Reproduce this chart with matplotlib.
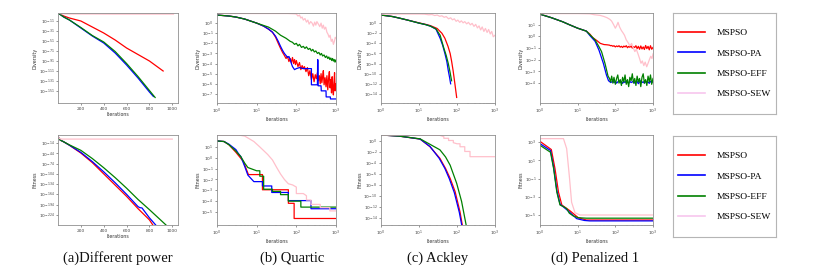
"""
Convergence comparison of MSPSO variants: diversity (top row) and fitness
(bottom row) on four benchmark functions, with one legend box per row.
"""

import matplotlib

matplotlib.use("Agg")
import matplotlib.pyplot as plt
import numpy as np
from matplotlib.lines import Line2D
from matplotlib.ticker import LogFormatterSciNotation, NullLocator

W, H = 818, 278

METHODS = ["MSPSO", "MSPSO-PA", "MSPSO-EFF", "MSPSO-SEW"]
LINE_COLORS = ["red", "blue", "green", "pink"]
LEGEND_COLORS = ["red", "blue", "green", "#f7c6ee"]
CAPTIONS = ["(a)Different power", "(b) Quartic", "(c) Ackley", "(d) Penalized 1"]

# -----------------------------
# Data (y values stored as log10 exponents)
# -----------------------------
# (a) Different power - diversity
a_div_red_x = [0, 50, 100, 200, 300, 400, 500, 600, 700, 800, 920]
a_div_red = [5, -1, -5, -11, -23, -35, -49, -65, -78, -91, -111]
a_div_blue_x = [0, 50, 100, 200, 300, 400, 500, 600, 700, 800, 835]
a_div_blue = [5, -3, -9, -25, -41, -55, -75, -99, -125, -153, -162]
a_div_green_x = [0, 50, 100, 200, 300, 400, 500, 600, 700, 800, 850]
a_div_green = [5, -3, -9, -24, -40, -53, -72, -96, -122, -150, -164]
a_div_pink_x = [0, 30, 100, 300, 500, 700, 900, 1010]
a_div_pink = [5, 3.5, 3, 3, 2.8, 2.8, 2.8, 2.8]

# (a) Different power - fitness
a_fit_red_x = [0, 5, 20, 50, 100, 200, 300, 400, 500, 600, 700, 800, 830]
a_fit_red = [10, 2, -5, -10, -20, -43, -71, -104, -137, -170, -206, -239, -254]
a_fit_blue_x = [0, 5, 20, 50, 100, 200, 300, 400, 500, 600, 700, 715, 735, 800, 855]
a_fit_blue = [10, 2, -5, -10, -20, -41, -68, -98, -130, -164, -200, -203, -204, -233, -254]
a_fit_green_x = [0, 5, 20, 50, 100, 200, 300, 400, 500, 600, 700, 800, 900, 945]
a_fit_green = [10, 2, -5, -10, -19, -35, -59, -86, -115, -146, -179, -209, -240, -254]
a_fit_pink_x = [0, 5, 20, 40, 100, 500, 1000]
a_fit_pink = [10, 2, -1.5, -2, -2, -2, -2]

# (b) Quartic - diversity
b_div_red_x = [1, 2, 3, 5, 10, 15, 20, 25, 30, 35,
               40, 45, 50, 55, 60, 65, 70, 75, 80, 85,
               90, 95, 100, 110, 120, 130, 140, 150, 160, 175,
               190, 205, 220, 240, 260, 280, 300, 320, 340, 360,
               380, 400, 420, 440, 460, 480, 500, 530, 560, 590,
               620, 650, 680, 710, 740, 770, 800, 830, 860, 890,
               920, 950, 980, 1000]
b_div_red = [0.8, 0.7, 0.6, 0.4, 0.0, -0.3, -0.6, -0.9, -1.4, -2.0,
             -2.5, -2.9, -3.2, -3.5, -3.3, -3.8, -3.5, -3.9, -3.4, -4.0,
             -3.6, -4.1, -3.7, -4.3, -3.9, -4.6, -4.2, -4.5, -4.3, -4.8,
             -4.4, -5.2, -4.7, -5.6, -5.0, -5.8, -5.1, -5.5, -4.9, -5.7,
             -5.2, -6.0, -5.0, -5.9, -5.3, -4.7, -6.1, -5.4, -6.3, -5.2,
             -6.6, -5.5, -4.8, -6.4, -5.6, -6.9, -5.3, -6.5, -7.1, -5.8,
             -4.9, -6.7, -6.0, -6.3]
b_div_blue_x = [1, 2, 3, 5, 10, 15, 20, 25, 30, 35,
                40, 45, 50, 55, 60, 65, 70, 75, 80, 90,
                100, 120, 150, 200, 240, 240, 340, 345, 350, 355,
                420, 425, 560, 565, 720, 725, 1000]
b_div_blue = [0.8, 0.7, 0.6, 0.4, 0.0, -0.3, -0.6, -0.9, -1.3, -1.8,
              -2.3, -2.7, -3.0, -3.2, -3.4, -3.3, -3.6, -4.0, -4.3, -4.6,
              -4.5, -4.4, -4.5, -4.5, -4.5, -6.1, -6.1, -3.6, -3.7, -6.2,
              -6.2, -6.7, -6.7, -7.3, -7.3, -7.5, -7.5]
b_div_green_x = [1, 2, 3, 5, 10, 20, 30, 40, 55, 70,
                 80, 90, 100, 110, 120, 135, 150, 165, 180, 200,
                 220, 240, 260, 285, 310, 340, 370, 400, 430, 460,
                 500, 540, 580, 620, 660, 700, 740, 780, 820, 860,
                 900, 940, 980, 1000]
b_div_green = [0.8, 0.7, 0.6, 0.4, 0.0, -0.4, -0.8, -1.2, -1.5, -1.8,
               -1.9, -2.1, -2.0, -2.25, -2.1, -2.4, -2.3, -2.5, -2.35, -2.6,
               -2.5, -2.75, -2.6, -2.85, -2.75, -3.0, -2.9, -3.15, -3.0, -3.25,
               -3.15, -3.4, -3.25, -3.5, -3.35, -3.6, -3.45, -3.7, -3.5, -3.75,
               -3.6, -3.85, -3.65, -3.8]
b_div_pink_x = [1, 3, 10, 30, 60, 90, 100, 110, 120, 130,
                140, 150, 165, 180, 195, 210, 230, 250, 270, 290,
                310, 330, 360, 390, 420, 450, 480, 510, 550, 590,
                630, 670, 710, 760, 810, 860, 910, 960, 1000]
b_div_pink = [0.95, 0.95, 0.95, 0.95, 0.95, 0.92, 0.9, 0.7, 0.8, 0.5,
              0.6, 0.3, 0.45, 0.1, 0.3, -0.1, 0.15, 0.0, -0.3, 0.1,
              -0.2, 0.15, -0.1, -0.35, 0.0, -0.5, -0.2, -0.6, -0.4, -0.9,
              -1.1, -1.4, -1.2, -1.8, -1.6, -2.1, -1.8, -1.4, -1.5]

# (b) Quartic - fitness
b_fit_red_x = [1, 1.5, 2, 3, 4.6, 6.2, 14, 14, 63, 63, 88, 88, 1000]
b_fit_red = [1.55, 1.5, 1.2, 0.5, -0.33, -1.55, -1.55, -2.95, -2.95, -4.2, -4.2, -5.6, -5.6]
b_fit_blue_x = [1, 1.5, 2, 3, 3.4, 4, 5, 6, 8.5, 14, 14, 24, 24, 63, 63, 234, 234, 1000]
b_fit_blue = [1.55, 1.5, 1.25, 0.75, 0.43, 0.1, -0.8, -1.6, -2.2, -2.2,
              -2.6, -2.6, -3.2, -3.2, -3.95, -3.95, -4.7, -4.7]
b_fit_green_x = [1, 1.5, 2, 3, 4, 5, 6, 10, 12, 12, 15, 15, 25, 25, 40, 40, 63, 63, 130, 130, 1000]
b_fit_green = [1.55, 1.5, 1.2, 0.6, 0.1, -0.5, -0.9, -1.2, -1.2, -1.7,
               -1.7, -2.9, -2.9, -3.1, -3.1, -3.4, -3.4, -4.0, -4.0, -4.55, -4.55]
b_fit_pink_x = [1, 3.5, 5, 8.5, 12, 19, 25, 32, 40, 50, 63, 80,
                100, 100, 150, 180, 180, 234, 234, 400, 400, 700, 700, 1000]
b_fit_pink = [2.1, 2.1, 2.0, 1.5, 1.0, 0.3, -0.2, -0.9, -1.5, -2.0, -2.4, -2.5,
              -2.7, -3.3, -3.3, -3.5, -3.9, -3.9, -4.3, -4.3, -4.6, -4.6, -4.9, -4.9]

# (c) Ackley - diversity
c_div_red_x = [1, 2, 3, 5, 10, 15, 20, 30, 40, 48, 58, 66, 72, 79, 88, 98]
c_div_red = [1.6, 1.3, 1.0, 0.6, 0.05, -0.25, -0.5, -1.06, -2.0, -3.0, -4.6, -6.0, -7.5, -9.4, -12.0, -14.7]
c_div_blue_x = [1, 2, 3, 5, 10, 15, 20, 28, 36, 42, 48, 54, 59, 64, 68]
c_div_blue = [1.6, 1.3, 1.0, 0.6, 0.0, -0.3, -0.6, -1.2, -3.0, -4.4, -6.0, -7.6, -9.4, -10.8, -12.0]
c_div_green_x = [1, 2, 3, 5, 10, 15, 20, 28, 36, 44, 52, 59, 66, 72]
c_div_green = [1.6, 1.3, 1.0, 0.6, 0.0, -0.3, -0.6, -1.15, -2.4, -4.7, -6.4, -8.0, -9.8, -11.4]
c_div_pink_x = [1, 5, 10, 14, 18, 22, 26, 30, 35, 40,
                46, 52, 60, 68, 76, 85, 95, 105, 118, 130,
                145, 160, 180, 200, 225, 250, 280, 310, 345, 380,
                420, 460, 510, 560, 620, 680, 750, 820, 900, 1000]
c_div_pink = [1.8, 1.8, 1.8, 1.77, 1.65, 1.7, 1.5, 1.6, 1.35, 1.45,
              1.15, 1.3, 0.85, 1.05, 0.65, 0.85, 0.35, 0.6, 0.15, 0.45,
              0.05, 0.3, -0.15, 0.15, -0.35, -0.05, -0.65, -0.25, -0.95, -0.55,
              -1.35, -0.75, -1.65, -1.05, -1.85, -1.25, -2.15, -1.65, -2.7, -2.4]

# (c) Ackley - fitness
c_fit_red_x = [1, 3, 10.7, 19.5, 35.5, 50, 66, 89, 120, 138]
c_fit_red = [1.1, 0.9, 0.36, -1.04, -3.15, -5.0, -6.8, -9.2, -12.9, -15.3]
c_fit_blue_x = [1, 3, 10.7, 19.5, 34, 48, 63, 85, 115, 133]
c_fit_blue = [1.1, 0.9, 0.36, -1.0, -3.15, -5.0, -6.9, -9.4, -13.0, -15.3]
c_fit_green_x = [1, 3, 10.7, 19.5, 35.5, 50, 66, 98, 132, 174]
c_fit_green = [1.1, 0.9, 0.4, -0.6, -1.6, -2.9, -4.4, -7.7, -11.0, -15.3]
c_fit_pink_x = [1, 35, 45, 45, 60, 60, 80, 80, 100, 120, 120, 160, 160, 220, 220, 1000]
c_fit_pink = [1.05, 1.05, 0.8, 0.5, 0.5, 0.1, 0.1, -0.3, -0.5, -0.5,
              -1.04, -1.04, -1.9, -1.9, -2.85, -2.85]

# (d) Penalized 1 - diversity
d_tail_x = [70, 75, 80, 86, 92, 100, 108, 116, 125, 135,
            145, 156, 168, 181, 195, 210, 226, 243, 262, 282,
            304, 327, 352, 379, 408, 440, 474, 510, 549, 591,
            637, 686, 739, 796, 857, 923, 1000]
d_div_red_x = [1, 2, 4, 6, 10, 17, 21, 25, 32, 40, 50, 60] + d_tail_x
d_div_red = [1.9, 1.6, 1.25, 1.0, 0.7, 0.45, 0.2, -0.1, -0.35, -0.6, -0.7, -0.72,
             -0.75, -0.8, -0.78, -0.85, -0.8, -0.9, -0.82, -0.88, -0.8, -0.92,
             -0.85, -0.95, -0.83, -0.9, -0.8, -0.97, -0.86, -0.93, -0.82, -1.0,
             -0.88, -0.95, -0.8, -1.05, -0.85, -1.1, -0.82, -1.08, -0.9, -1.12,
             -0.78, -1.05, -0.85, -1.15, -0.8, -1.1, -0.95]
d_div_blue_x = [1, 2, 4, 6, 10, 17, 21, 29, 37, 48, 58, 66] + d_tail_x
d_div_blue = [1.9, 1.6, 1.25, 1.0, 0.7, 0.45, 0.08, -0.42, -1.2, -2.3, -3.3, -3.8,
              -3.85, -3.95, -3.9, -3.8, -3.95, -3.85, -4.0, -3.9, -3.8, -3.95,
              -3.88, -4.02, -3.85, -3.95, -3.8, -3.92, -4.0, -3.85, -3.95, -3.9,
              -3.82, -4.0, -3.9, -3.85, -4.05, -3.9, -3.8, -3.95, -3.88, -4.0,
              -3.85, -3.95, -3.9, -4.02, -3.85, -3.92, -3.9]
d_div_green_x = [1, 2, 4, 6, 10, 17, 21, 29, 37, 43, 53, 64] + d_tail_x
d_div_green = [1.9, 1.6, 1.25, 1.0, 0.7, 0.45, 0.15, -0.3, -0.9, -1.3, -2.3, -3.4,
               -3.6, -3.9, -3.4, -4.0, -3.5, -4.1, -3.6, -3.3, -4.0, -3.7,
               -4.2, -3.5, -3.9, -3.3, -4.1, -3.7, -4.3, -3.5, -3.8, -3.2,
               -4.0, -3.6, -4.2, -3.4, -3.9, -3.6, -4.3, -3.5, -3.2, -4.0,
               -3.7, -4.2, -3.4, -3.9, -3.3, -4.1, -3.6]
d_div_pink_x = [1, 5, 10, 21, 28, 39, 50, 60, 72, 80,
                90, 100, 108, 118, 130, 145, 160, 175, 195, 215,
                245, 270, 300, 330, 360, 400, 440, 480, 520, 570,
                620, 680, 740, 800, 870, 940, 1000]
d_div_pink = [1.95, 1.95, 1.95, 1.93, 1.85, 1.8, 1.7, 1.6, 1.45, 1.3,
              1.0, 0.7, 0.9, 1.2, 0.8, 0.5, 0.3, 0.1, -0.3, -0.5,
              -0.8, -0.6, -1.0, -1.3, -1.1, -1.5, -1.9, -2.3, -2.1, -2.5,
              -2.2, -2.6, -2.3, -2.0, -1.7, -1.9, -1.5]

# (d) Penalized 1 - fitness
d_fit_red_x = [1, 2.0, 2.5, 3.1, 3.8, 6.3, 10.4, 17, 1000]
d_fit_red = [3.1, 2.2, 0.1, -2.5, -3.9, -4.55, -5.3, -5.55, -5.55]
d_fit_blue_x = [1, 1.9, 2.3, 2.8, 3.4, 5.6, 9.4, 15, 21, 1000]
d_fit_blue = [2.85, 2.1, 0.25, -2.3, -3.8, -4.55, -5.4, -5.6, -5.65, -5.65]
d_fit_green_x = [1, 1.9, 2.3, 2.8, 3.4, 4.3, 5.1, 6.0, 7.6, 10.4, 17, 1000]
d_fit_green = [2.67, 1.9, 0.1, -2.5, -3.9, -4.1, -4.3, -4.8, -5.1, -5.3, -5.35, -5.35]
d_fit_pink_x = [1, 4.2, 5.1, 6.0, 6.9, 8.5, 11.5, 1000]
d_fit_pink = [3.4, 3.4, 2.3, -0.7, -3.6, -4.75, -5.0, -5.0]

# y tick exponents per panel
a_div_ticks = [-11, -31, -51, -71, -91, -111, -131, -151]
a_fit_ticks = [-14, -44, -74, -104, -134, -164, -194, -224]
b_div_ticks = [0, -1, -2, -3, -4, -5, -6, -7]
b_fit_ticks = [1, 0, -1, -2, -3, -4, -5]
c_div_ticks = [0, -2, -4, -6, -8, -10, -12, -14]
c_fit_ticks = [0, -2, -4, -6, -8, -10, -12, -14]
d_div_ticks = [1, 0, -1, -2, -3, -4]
d_fit_ticks = [3, 1, -1, -3, -5]


def px_rect(left, top, width, height):
    """Pixel box (from top-left) -> figure fraction rect."""
    return [left / W, 1 - (top + height) / H, width / W, height / H]


def style_axes(ax, log_x, y_ticks, ylim_exp, ylabel):
    if log_x:
        ax.set_xscale("log")
        ax.set_xlim(1, 1000)
    else:
        ax.set_xlim(0, 1050)
        ax.set_xticks([200, 400, 600, 800, 1000])
    ax.set_yscale("log")
    ax.set_ylim(10.0 ** ylim_exp[0], 10.0 ** ylim_exp[1])
    ax.set_yticks(10.0 ** np.array(y_ticks, dtype=float))
    ax.yaxis.set_major_formatter(LogFormatterSciNotation())
    ax.yaxis.set_minor_locator(NullLocator())

    ax.tick_params(which="major", labelsize=3.2, length=1.6, width=0.4, pad=1,
                   colors="#444444")
    ax.tick_params(which="minor", length=0.9, width=0.3, colors="#666666")
    for spine in ax.spines.values():
        spine.set_color("#8f8f8f")
        spine.set_linewidth(0.6)
    ax.set_xlabel("Iterations", fontsize=3.4, labelpad=1, color="#333333")
    ax.set_ylabel(ylabel, fontsize=3.4, labelpad=1, color="#333333")


def draw_panel(ax, series):
    for (xs, exps), color in zip(series, LINE_COLORS):
        ax.plot(xs, 10.0 ** np.array(exps, dtype=float), color=color, lw=0.9)


def main():
    fig = plt.figure(figsize=(W / 100, H / 100), dpi=100)

    cols = [(58, 120), (217, 119), (381, 114), (540, 113)]
    top_row = [
        ([(a_div_red_x, a_div_red), (a_div_blue_x, a_div_blue),
          (a_div_green_x, a_div_green), (a_div_pink_x, a_div_pink)],
         False, a_div_ticks, (-175, 5)),
        ([(b_div_red_x, b_div_red), (b_div_blue_x, b_div_blue),
          (b_div_green_x, b_div_green), (b_div_pink_x, b_div_pink)],
         True, b_div_ticks, (-7.9, 1.0)),
        ([(c_div_red_x, c_div_red), (c_div_blue_x, c_div_blue),
          (c_div_green_x, c_div_green), (c_div_pink_x, c_div_pink)],
         True, c_div_ticks, (-15.8, 2.0)),
        ([(d_div_red_x, d_div_red), (d_div_blue_x, d_div_blue),
          (d_div_green_x, d_div_green), (d_div_pink_x, d_div_pink)],
         True, d_div_ticks, (-5.7, 2.0)),
    ]
    bottom_row = [
        ([(a_fit_red_x, a_fit_red), (a_fit_blue_x, a_fit_blue),
          (a_fit_green_x, a_fit_green), (a_fit_pink_x, a_fit_pink)],
         False, a_fit_ticks, (-254, 10)),
        ([(b_fit_red_x, b_fit_red), (b_fit_blue_x, b_fit_blue),
          (b_fit_green_x, b_fit_green), (b_fit_pink_x, b_fit_pink)],
         True, b_fit_ticks, (-6.2, 2.1)),
        ([(c_fit_red_x, c_fit_red), (c_fit_blue_x, c_fit_blue),
          (c_fit_green_x, c_fit_green), (c_fit_pink_x, c_fit_pink)],
         True, c_fit_ticks, (-15.3, 1.1)),
        ([(d_fit_red_x, d_fit_red), (d_fit_blue_x, d_fit_blue),
          (d_fit_green_x, d_fit_green), (d_fit_pink_x, d_fit_pink)],
         True, d_fit_ticks, (-6.1, 3.8)),
    ]

    for row, (top, height, ylabel) in zip([top_row, bottom_row],
                                          [(13, 90, "Diversity"), (135, 90, "Fitness")]):
        for (left, width), (series, log_x, ticks, ylim_exp) in zip(cols, row):
            ax = fig.add_axes(px_rect(left, top, width, height))
            draw_panel(ax, series)
            style_axes(ax, log_x, ticks, ylim_exp, ylabel)

    # legend boxes, one per row
    handles = [Line2D([], [], color=c, lw=1.2) for c in LEGEND_COLORS]
    for top in (13, 136):
        lax = fig.add_axes(px_rect(673, top, 103, 101))
        lax.set_xticks([])
        lax.set_yticks([])
        for spine in lax.spines.values():
            spine.set_color("#b5b5b5")
            spine.set_linewidth(0.8)
        lax.legend(handles, METHODS, loc="center", frameon=False,
                   prop={"family": "Liberation Serif", "size": 6.8},
                   handlelength=2.8, handletextpad=1.2, labelspacing=1.25)

    for cx, text in zip([118, 292, 438, 595], CAPTIONS):
        fig.text(cx / W, 1 - 258 / H, text, ha="center", va="center",
                 fontsize=10.5, family="Liberation Serif", color="#111111")

    fig.savefig("out.png", dpi=100)
    plt.close(fig)


if __name__ == "__main__":
    main()
